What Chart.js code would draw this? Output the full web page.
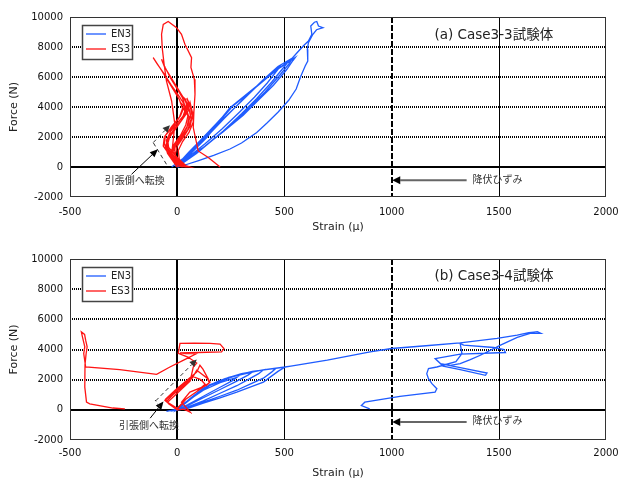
<!DOCTYPE html>
<html><head><meta charset="utf-8">
<script src="https://cdn.jsdelivr.net/npm/chart.js@4"></script>
<style>
html,body{margin:0;padding:0;background:#fff;}
#wrap{position:relative;width:620px;height:480px;overflow:hidden;}
canvas{position:absolute;left:0;}
#c1{top:0;} #c2{top:240px;}
</style></head><body>
<div id="wrap"><canvas id="c1" width="620" height="240"></canvas><canvas id="c2" width="620" height="240"></canvas></div>
<script>
// ---------- data (strain in μ, force in N) ----------
const strainTicks = [-500, 0, 500, 1000, 1500, 2000];
const forceTicks = [-2000, 0, 2000, 4000, 6000, 8000, 10000];
const seriesNames = ['EN3', 'ES3'];
const caseTitles = ['(a) Case3-3試験体', '(b) Case3-4試験体'];
const yieldLabel = '降伏ひずみ';
const tensionLabel = '引張側へ転換';
const axisTitleX = 'Strain (μ)';
const axisTitleY = 'Force (N)';

// Case3-3, EN3
const en3CaseA = [
  [-26,0],
  [30,600],[90,1400],[160,2500],[230,3600],[246,3850],[225,3500],[170,2700],[110,1800],[55,1000],[10,300],[-10,50],
  [40,700],[100,1550],[170,2650],[240,3800],[252,3950],[232,3620],[175,2750],[115,1850],[60,1050],[15,350],[-5,50],
  [35,650],[95,1450],[165,2550],[238,3750],[245,3900],[235,3700],[180,2850],[120,1950],[65,1100],[20,400],[0,50],
  [50,800],[120,1800],[200,3000],[290,4250],[380,5500],[450,6400],[480,6730],[470,6500],[420,5600],[360,4650],[290,3650],[210,2550],[130,1550],[60,750],[10,150],
  [50,750],[130,1900],[220,3250],[310,4550],[400,5800],[470,6700],[527,7180],[500,6700],[440,5650],[370,4550],[300,3550],[215,2400],[130,1400],[60,650],[10,100],
  [60,850],[140,2000],[246,3960],[371,5400],[480,6627],[550,7293],[540,7100],[511,6500],[449,5450],[371,4350],[308,3450],[215,2350],[121,1300],[44,650],[0,50],
  [60,900],[150,2200],[250,3950],[370,5350],[470,6550],[535,7200],[520,6850],[480,6150],[410,5000],[340,4000],[260,2900],[170,1850],[90,900],[30,300],[0,0],
  [60,900],[150,2250],[246,3960],[371,5400],[480,6627],[527,7100],[558,7600],[590,8100],[612,8400],[628,8847],[623,9400],[640,9650],[651,9700],[659,9400],[680,9293],[650,9150],[633,8847],[612,8293],[607,7847],[609,7067],[597,6733],[575,6000],[555,5200],[520,4450],[470,3650],[420,2950],[371,2300],[300,1600],[246,1200],[170,780],[100,430],[40,150],[0,0]
];
// Case3-3, ES3
const es3CaseA = [
  [0,0],
  [-20,400],[-45,900],[-55,1400],[-40,1900],[-10,2500],[20,3100],[35,3700],[30,4100],[15,4300],[35,4000],[50,3400],[40,2800],[15,2100],[-15,1500],[-25,900],[-5,400],[20,0],
  [0,300],[-30,800],[-50,1300],[-35,2000],[0,2700],[30,3300],[45,3900],[40,4500],[25,4700],[50,4200],[62,3500],[50,2800],[25,2200],[-5,1600],[-15,1000],[5,400],[35,0],
  [10,300],[-25,900],[-60,1500],[-55,2100],[-20,2700],[10,3300],[25,3900],[10,4500],[-20,5200],[-50,5900],[-80,6600],[-112,7293],[-95,6900],[-60,6200],[-25,5400],[10,4700],[40,4000],[55,3300],[45,2600],[15,1900],[-20,1300],[-35,800],[-10,300],[25,0],
  [0,200],[-35,800],[-65,1400],[-60,2000],[-25,2700],[15,3400],[35,4100],[25,4600],[0,5200],[-30,5900],[-55,6600],[-73,7180],[-60,6700],[-30,6000],[0,5300],[30,4600],[55,3900],[65,3200],[50,2500],[20,1900],[-15,1300],[-30,700],[-5,200],[40,0],
  [10,200],[-20,700],[-45,1200],[-50,1800],[-30,2400],[5,3000],[40,3600],[55,4200],[45,4600],[60,4100],[70,3400],[60,2700],[30,2000],[0,1400],[-10,800],[15,300],[50,0],
  [20,300],[-10,800],[-40,1300],[-45,1900],[-15,2500],[20,3100],[50,3700],[60,4300],[70,3700],[75,3000],[55,2300],[25,1700],[5,1100],[10,500],[40,100],[60,0],
  [-3,70],[-26,850],[-19,1730],[-11,2850],[-26,4400],[-50,5730],[-61,6850],[-70,7960],[-73,8850],[-65,9510],[-42,9700],[-3,9290],[20,8850],[36,8180],[67,7290],[64,6630],[80,5850],[83,4850],[78,3700],[75,2630],[98,1070],[145,630],[200,0]
];
// Case3-4, EN3
const en3CaseB = [
  [-50,-100],
  [0,50],[60,700],[122,1300],[200,1800],[278,2150],[260,1950],[200,1500],[122,900],[50,350],[0,0],
  [60,750],[122,1450],[200,1950],[278,2287],[350,2500],[330,2300],[278,1900],[200,1350],[122,800],[50,300],[0,0],
  [70,800],[130,1500],[220,2050],[300,2400],[402,2650],[380,2400],[330,2000],[278,1600],[200,1100],[122,600],[50,200],[0,0],
  [70,850],[140,1550],[240,2150],[350,2550],[460,2750],[440,2500],[402,2100],[340,1700],[278,1300],[200,900],[122,507],[50,150],[0,0],
  [80,900],[150,1600],[260,2200],[380,2600],[503,2840],[470,2550],[402,1840],[340,1500],[278,1173],[200,800],[122,450],[50,100],[-20,-50],
  [80,900],[150,1650],[278,2287],[400,2650],[503,2840],[530,2900],[700,3300],[900,3840],[1000,4067],[1160,4250],[1320,4440],[1492,4733],[1586,4953],[1640,5120],[1664,5153],[1680,5180],[1696,5067],[1650,5080],[1586,4800],[1508,4287],[1461,3953],[1414,3620],[1367,3333],[1320,3067],[1274,2953],[1227,3067],[1320,2800],[1445,2440],[1438,2287],[1320,2667],[1240,2900],[1203,3400],[1320,3687],[1531,3800],[1524,4000],[1477,4133],[1336,4287],[1320,4400],[1328,3733],[1300,3200],[1211,2840],[1172,2733],[1164,2400],[1172,2067],[1188,1733],[1211,1400],[1203,1173],[1039,887],[875,507],[859,287],[898,67]
];
// Case3-4, ES3
const es3CaseB = [
  [0,0],
  [-30,300],[-57,620],[-20,1100],[30,1700],[75,2200],[110,2000],[130,1700],[90,1200],[40,700],[10,200],[0,0],
  [-40,400],[-55,700],[-10,1300],[40,1900],[91,2500],[106,2950],[120,2700],[153,1840],[137,1620],[59,1173],[20,500],[60,-150],[30,50],[0,0],
  [-50,550],[-20,1000],[30,1600],[70,2100],[91,2620],[140,2100],[150,1800],[100,1300],[40,700],[0,100],
  [-45,500],[0,1100],[60,1900],[75,2840],[91,3100],[50,3500],[5,3750],[13,4400],[80,4420],[153,4400],[200,4353],[218,4067],[207,3840],[100,3800],[13,3780],[40,3720],[91,3733],[30,3300],[-34,2840],[-96,2353],[-268,2667],[-427,2840],[-436,3733],[-431,4173],[-442,4840],[-447,5173],[-432,5000],[-427,4620],[-420,4173],[-425,3700],[-430,3000],[-431,1507],[-423,507],[-408,400],[-300,120],[-244,67]
];

// annotation anchors (data coordinates)
const notesA = {
  title: [1200, 8800],
  yieldArrow: [[1350, -887], [1003, -887]], yieldText: [1377, -887],
  tensionText: [-198, -953],
  tensionArrow: [[-213, -487], [-90, 1180]],
  dashedLine: [[-50, 180], [-112, 1627]],
  dashedArrow: [[-112, 1627], [-34, 2780]]
};
const notesB = {
  title: [1200, 8867],
  yieldArrow: [[1350, -800], [1003, -800]], yieldText: [1377, -800],
  tensionText: [-131, -1113],
  tensionArrow: [[-126, -553], [-64, 553]],
  dashedLine: [[-80, 180], [-103, 650]],
  dashedArrow: [[-100, 600], [91, 3333]]
};

// ---------- drawing ----------
const FONT = "'DejaVu Sans','Noto Sans CJK JP',sans-serif";
const BLUE = '#1f5cff';
const RED = '#ff1414';

function arrow(ctx, x1, y1, x2, y2, o) {
  ctx.save();
  ctx.strokeStyle = o.color; ctx.fillStyle = o.headColor || o.color; ctx.lineWidth = o.width;
  ctx.setLineDash(o.dash || []);
  const a = Math.atan2(y2 - y1, x2 - x1);
  const hl = o.head || 7, hw = o.headW || 3.5;
  const bx = x2 - hl * Math.cos(a), by = y2 - hl * Math.sin(a);
  ctx.beginPath(); ctx.moveTo(x1, y1); ctx.lineTo(bx, by); ctx.stroke();
  ctx.setLineDash([]);
  ctx.beginPath(); ctx.moveTo(x2, y2);
  ctx.lineTo(bx + hw * Math.sin(a), by - hw * Math.cos(a));
  ctx.lineTo(bx - hw * Math.sin(a), by + hw * Math.cos(a));
  ctx.closePath(); ctx.fill();
  ctx.restore();
}

const gridPlugin = {
  id: 'customGrid',
  beforeDatasetsDraw(chart) {
    const { ctx, chartArea: a, scales: { x, y } } = chart;
    ctx.save();
    y.ticks.forEach(t => {
      const v = t.value;
      if (v === forceTicks[0] || v === forceTicks[forceTicks.length - 1]) return;
      const py = Math.round(y.getPixelForValue(v));
      ctx.beginPath();
      if (v === 0) { ctx.setLineDash([]); ctx.lineWidth = 2; ctx.strokeStyle = '#000'; }
      else { ctx.setLineDash([1, 1]); ctx.lineWidth = 2; ctx.strokeStyle = '#000'; }
      ctx.moveTo(a.left, py); ctx.lineTo(a.right, py); ctx.stroke();
    });
    x.ticks.forEach(t => {
      const v = t.value;
      if (v === strainTicks[0] || v === strainTicks[strainTicks.length - 1]) return;
      const px = Math.round(x.getPixelForValue(v));
      ctx.beginPath();
      if (v === 0) { ctx.setLineDash([]); ctx.lineWidth = 2; }
      else if (v === 1000) { ctx.setLineDash([6, 2]); ctx.lineWidth = 2; }
      else { ctx.setLineDash([]); ctx.lineWidth = 1; }
      ctx.strokeStyle = '#000';
      const xx = ctx.lineWidth === 1 ? px + 0.5 : px;
      ctx.moveTo(xx, a.top); ctx.lineTo(xx, a.bottom); ctx.stroke();
    });
    ctx.setLineDash([]);
    ctx.lineWidth = 1; ctx.strokeStyle = '#333';
    ctx.strokeRect(a.left + 0.5, a.top + 0.5, a.right - a.left - 1, a.bottom - a.top - 1);
    ctx.restore();
  },
  afterDraw(chart) {
    const { ctx, chartArea: a, scales: { x, y } } = chart;
    const n = chart.options.plugins.customGrid;
    const P = p => [x.getPixelForValue(p[0]), y.getPixelForValue(p[1])];
    ctx.save();
    // legend
    const lx = a.left + 12, ly = a.top + 8;
    ctx.fillStyle = '#fff';
    ctx.fillRect(lx, ly, 51, 35);
    ctx.strokeStyle = '#444'; ctx.lineWidth = 1.5;
    ctx.strokeRect(lx + 0.5, ly + 0.5, 50, 34);
    [[BLUE, seriesNames[0], 9], [RED, seriesNames[1], 24]].forEach(([c, t, dy]) => {
      ctx.strokeStyle = c; ctx.lineWidth = 1.3;
      ctx.beginPath(); ctx.moveTo(lx + 4, ly + dy); ctx.lineTo(lx + 24, ly + dy); ctx.stroke();
      ctx.fillStyle = '#222'; ctx.font = '10px ' + FONT; ctx.textBaseline = 'middle'; ctx.textAlign = 'left';
      ctx.fillText(t, lx + 29, ly + dy + 0.5);
    });
    // title
    let p = P(n.title);
    ctx.fillStyle = '#222'; ctx.font = '13.5px ' + FONT; ctx.textAlign = 'left'; ctx.textBaseline = 'middle';
    ctx.fillText(n.caseTitle, p[0], p[1]);
    // yield arrow
    const ya = n.yieldArrow.map(P);
    arrow(ctx, ya[0][0], ya[0][1], ya[1][0], ya[1][1], { color: '#666', headColor: '#000', width: 2, head: 8, headW: 4 });
    p = P(n.yieldText);
    ctx.fillStyle = '#333'; ctx.font = '10px ' + FONT; ctx.textAlign = 'left';
    ctx.fillText(yieldLabel, p[0], p[1]);
    // tension annotation
    p = P(n.tensionText);
    ctx.textAlign = 'center';
    ctx.fillText(tensionLabel, p[0], p[1]);
    const ta = n.tensionArrow.map(P);
    arrow(ctx, ta[0][0], ta[0][1], ta[1][0], ta[1][1], { color: '#000', width: 1, head: 8, headW: 3.5 });
    const dl = n.dashedLine.map(P);
    ctx.strokeStyle = '#333'; ctx.lineWidth = 1; ctx.setLineDash([4, 3]);
    ctx.beginPath(); ctx.moveTo(dl[0][0], dl[0][1]); ctx.lineTo(dl[1][0], dl[1][1]); ctx.stroke();
    ctx.setLineDash([]);
    const da = n.dashedArrow.map(P);
    arrow(ctx, da[0][0], da[0][1], da[1][0], da[1][1], { color: '#333', width: 1, dash: [4, 3], head: 7, headW: 3.5 });
    ctx.restore();
  }
};

function makeChart(id, en3, es3, notes, caseTitle, padTop, xHeight, xTickPad, xTitlePad) {
  return new Chart(document.getElementById(id), {
    type: 'scatter',
    data: {
      datasets: [
        { label: seriesNames[0], data: en3.map(([x, y]) => ({ x, y })), showLine: true, borderColor: BLUE, backgroundColor: BLUE, borderWidth: 1.3, pointRadius: 0, order: 1 },
        { label: seriesNames[1], data: es3.map(([x, y]) => ({ x, y })), showLine: true, borderColor: RED, backgroundColor: RED, borderWidth: 1.3, pointRadius: 0, order: 0 }
      ]
    },
    options: {
      responsive: false, animation: false, devicePixelRatio: 1,
      layout: { padding: { top: padTop, right: 14, left: 0, bottom: 0 } },
      plugins: {
        legend: { display: false }, tooltip: { enabled: false },
        customGrid: Object.assign({ caseTitle }, notes)
      },
      scales: {
        x: {
          type: 'linear', min: strainTicks[0], max: strainTicks[strainTicks.length - 1],
          afterBuildTicks: s => { s.ticks = strainTicks.map(v => ({ value: v })); },
          afterFit: s => { s.height = xHeight; s.paddingLeft = 0; s.paddingRight = 0; },
          grid: { display: false, drawTicks: false }, border: { display: false },
          ticks: { padding: xTickPad, color: '#111', font: { size: 10, family: FONT }, callback: v => String(v), maxRotation: 0 },
          title: { display: true, text: axisTitleX, color: '#222', font: { size: 11, family: FONT }, padding: { top: 0, bottom: xTitlePad } }
        },
        y: {
          type: 'linear', min: forceTicks[0], max: forceTicks[forceTicks.length - 1],
          afterBuildTicks: s => { s.ticks = forceTicks.map(v => ({ value: v })); },
          afterFit: s => { s.width = 70; s.paddingTop = 0; s.paddingBottom = 0; },
          grid: { display: false, drawTicks: false }, border: { display: false },
          ticks: { padding: 7, color: '#111', font: { size: 10, family: FONT }, callback: v => String(v) },
          title: { display: true, text: axisTitleY, color: '#222', font: { size: 11, family: FONT }, padding: { top: 8, bottom: 0 } }
        }
      }
    },
    plugins: [gridPlugin]
  });
}

makeChart('c1', en3CaseA, es3CaseA, notesA, caseTitles[0], 17, 43, 9, 6);
makeChart('c2', en3CaseB, es3CaseB, notesB, caseTitles[1], 19, 40, 7, 0);
</script>
</body></html>
